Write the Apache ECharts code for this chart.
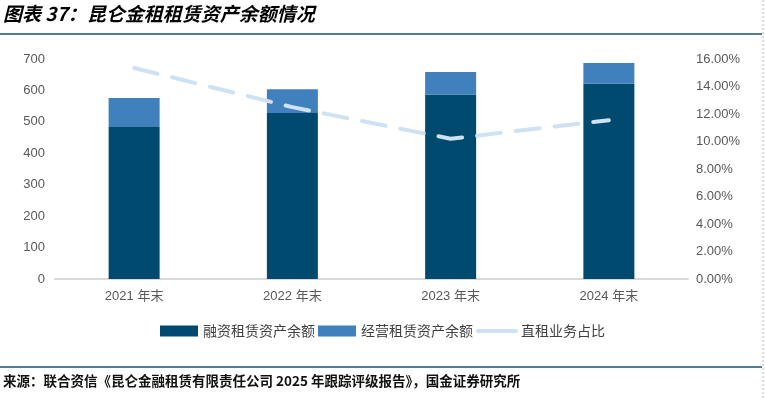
<!DOCTYPE html>
<html>
<head>
<meta charset="utf-8">
<script src="https://cdn.jsdelivr.net/npm/echarts@6/dist/echarts.min.js"></script>
<style>
  html, body { margin: 0; padding: 0; background: #fff; }
  #draw { width: 765px; height: 399px; }
</style>
</head>
<body>
<div id="draw"></div>
<script>
// 数据（亿元 / %）
var years = ['2021 年末', '2022 年末', '2023 年末', '2024 年末'];
var financeLease = [484, 528, 586, 621];   // 融资租赁资产余额
var operLease = [92, 76, 73, 66];          // 经营租赁资产余额
var directRatio = [15.35, 12.5, 10.2, 11.55]; // 直租业务占比

var leftTicks = { min: 0, max: 700, interval: 100 };
var rightTicks = { min: 0, max: 16, interval: 2 };

var myChart = echarts.init(document.getElementById('draw'));
var font = 'Arial, "Liberation Sans", "Noto Sans CJK SC", sans-serif';
var cjk = '"Noto Sans CJK SC", sans-serif';

var option = {
	animation : false,
	textStyle : { fontFamily : font },
	graphic : [ {
		type : 'text',
		left : 3,
		top : 4,
		style : {
			text : '图表 37：昆仑金租租赁资产余额情况',
			font : 'italic bold 19px ' + cjk,
			fill : '#000'
		}
	}, {
		type : 'line',
		shape : { x1 : 0, y1 : 34, x2 : 762, y2 : 34 },
		style : { stroke : '#1d4e73', lineWidth : 1.5 }
	}, {
		type : 'line',
		shape : { x1 : 0, y1 : 367, x2 : 762, y2 : 367 },
		style : { stroke : '#1d4e73', lineWidth : 1.5 }
	}, {
		type : 'line',
		shape : { x1 : 763, y1 : 0, x2 : 763, y2 : 399 },
		style : { stroke : '#bbb', lineWidth : 1, lineDash : [2, 2] }
	}, {
		type : 'text',
		left : 3,
		top : 374,
		style : {
			text : '来源：联合资信《昆仑金融租赁有限责任公司 2025 年跟踪评级报告》，国金证券研究所',
			font : 'bold 13.5px ' + cjk,
			fill : '#111'
		}
	} ],
	legend : {
		left : 'center',
		top : 319,
		itemWidth : 38,
		itemHeight : 11,
		itemGap : 3,
		textStyle : { fontSize : 14, color : '#404040', fontFamily : cjk },
		data : [ {
			name : '融资租赁资产余额',
			icon : 'rect'
		}, {
			name : '经营租赁资产余额',
			icon : 'rect'
		}, {
			name : '直租业务占比',
			itemStyle : { opacity : 0 },
			lineStyle : { type : 'solid', width : 4, cap : 'round' }
		} ]
	},
	grid : {
		left : 55,
		right : 77,
		top : 59,
		bottom : 120
	},
	xAxis : [ {
		type : 'category',
		data : years,
		axisLine : { lineStyle : { color : '#d9d9d9', width : 2 } },
		axisTick : { inside : true, length : 5, lineStyle : { color : '#d9d9d9', width : 2 } },
		axisLabel : { color : '#595959', fontSize : 13, margin : 11 }
	} ],
	yAxis : [ {
		type : 'value',
		min : leftTicks.min,
		max : leftTicks.max,
		interval : leftTicks.interval,
		splitLine : { show : false },
		axisLabel : { color : '#595959', fontSize : 13, margin : 10 }
	}, {
		type : 'value',
		min : rightTicks.min,
		max : rightTicks.max,
		interval : rightTicks.interval,
		splitLine : { show : false },
		axisLabel : {
			color : '#595959',
			fontSize : 13,
			margin : 8,
			formatter : function(v) {
				return v.toFixed(2) + '%';
			}
		}
	} ],
	series : [ {
		name : '融资租赁资产余额',
		type : 'bar',
		stack : 'total',
		barWidth : 51,
		itemStyle : { color : '#014a6f' },
		data : financeLease
	}, {
		name : '经营租赁资产余额',
		type : 'bar',
		stack : 'total',
		barWidth : 51,
		itemStyle : { color : '#4080bd' },
		data : operLease
	}, {
		name : '直租业务占比',
		type : 'line',
		yAxisIndex : 1,
		symbol : 'none',
		itemStyle : { color : '#cfe2f3' },
		lineStyle : {
			color : '#cfe2f3',
			width : 4,
			type : [ 24, 15 ],
			cap : 'round'
		},
		data : directRatio
	} ]
};
myChart.setOption(option);
</script>
</body>
</html>
